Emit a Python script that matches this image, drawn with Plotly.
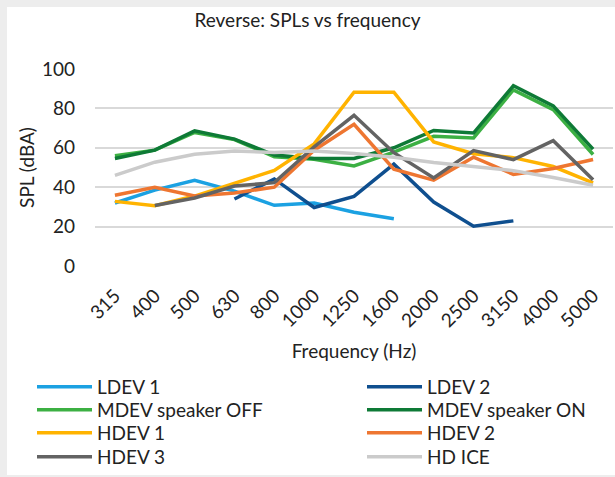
import plotly.graph_objects as go

categories = ["315", "400", "500", "630", "800", "1000", "1250", "1600",
              "2000", "2500", "3150", "4000", "5000"]

ldev1 = [32, 38.5, 43.5, 38, 30.8, 32, 27.3, 24, None, None, None, None, None]
ldev2 = [None, None, None, 34, 44.2, 29.7, 35.3, 51.7, 32.5, 20.2, 22.9, None, None]
mdev_off = [56, 58.8, 67.8, 64.2, 55.5, 54.2, 50.8, 57.8, 65.8, 65, 89.4, 79.4, 56.6]
mdev_on = [54.6, 58.8, 68.6, 64.4, 56.3, 54.6, 54.6, 60, 68.8, 67.5, 91.5, 81.3, 59.3]
hdev1 = [32.8, 30.6, 35.5, 41.9, 48.5, 62, 88.2, 88.2, 63, 57, 55, 50.5, 42.2]
hdev2 = [35.9, 40, 35.5, 37.1, 40, 58.8, 71.9, 49.1, 43.6, 55.2, 46.5, 49.5, 54.1]
hdev3 = [None, 30.7, 34.5, 40.6, 42.3, 60.5, 76.5, 57.5, 44.7, 58.6, 54, 63.6, 43.8]
hd_ice = [46, 52.7, 56.7, 58.4, 57.6, 58.4, 57.1, 55.2, 52.5, 50.5, 48.4, 44.9, 41]

y_ticks = [0, 20, 40, 60, 80, 100]

series_names = ["LDEV 1", "LDEV 2", "MDEV speaker OFF", "MDEV speaker ON",
                "HDEV 1", "HDEV 2", "HDEV 3", "HD ICE"]
series_values = [ldev1, ldev2, mdev_off, mdev_on, hdev1, hdev2, hdev3, hd_ice]
series_colors = ["#1BA1E2", "#0F4F8F", "#3CB043", "#0E7A36",
                 "#FFB300", "#EE7631", "#636363", "#CBCBCB"]

FONT = "Lato"
FS = 19
TXT = "#222222"

# plot area: x 95..613, y 69..265.7
L, R, T, B = 95, 2, 69, 211
pw = 615 - L - R
ph = 477 - T - B

def px_x(p):
    return (p - L) / pw

def px_y(p):
    return (477 - B - p) / ph

fig = go.Figure()
legend_layouts = {}
col_x = [32, 362]
row_center = [387, 410, 433, 457]
for i, (name, vals, color) in enumerate(zip(series_names, series_values, series_colors)):
    leg_id = "legend" if i == 0 else f"legend{i + 1}"
    fig.add_trace(go.Scatter(
        x=categories, y=vals, name=name, mode="lines",
        line=dict(color=color, width=3.5),
        connectgaps=False, legend=leg_id,
    ))
    legend_layouts[leg_id] = dict(
        orientation="v", xanchor="left", yanchor="top",
        x=px_x(col_x[i % 2]), y=px_y(row_center[i // 2] - 19),
        itemwidth=55, tracegroupgap=0, bgcolor="rgba(0,0,0,0)",
        font=dict(family=FONT, size=FS, color=TXT),
    )

fig.add_shape(type="rect", xref="paper", yref="paper",
              x0=px_x(7), x1=px_x(620), y0=px_y(475), y1=px_y(7),
              fillcolor="white", line=dict(width=0), layer="below")

fig.update_layout(
    width=615, height=477,
    margin=dict(l=L, r=R, t=T, b=B, autoexpand=False),
    paper_bgcolor="#EDEDED",
    plot_bgcolor="rgba(0,0,0,0)",
    font=dict(family=FONT, size=FS, color=TXT),
    title=dict(text="Reverse: SPLs vs frequency", x=0.5, xref="container",
               xanchor="center", y=1 - 20 / 477, yref="container", yanchor="middle",
               font=dict(family=FONT, size=FS, color=TXT)),
    showlegend=True,
    xaxis=dict(
        type="category", range=[-0.5, 12.5], tickangle=-45,
        showgrid=False, showline=False, ticks="", automargin=False,
        ticklabelstandoff=14,
        tickfont=dict(family=FONT, size=FS, color=TXT),
        title=dict(text="Frequency (Hz)", standoff=14,
                   font=dict(family=FONT, size=FS, color=TXT)),
    ),
    yaxis=dict(
        range=[0, 100], tickvals=y_ticks, showgrid=True,
        gridcolor="#D9D9D9", gridwidth=1.5, zeroline=False, automargin=False,
        showline=False, ticks="", ticklabelstandoff=19,
        tickfont=dict(family=FONT, size=FS, color=TXT),
        title=dict(text="SPL (dBA)", standoff=2,
                   font=dict(family=FONT, size=FS, color=TXT)),
    ),
)
fig.update_layout(**legend_layouts)

fig.write_html(
    "out.html",
    config={"displayModeBar": False},
    post_script="document.body.style.margin='0';document.body.style.padding='0';"
                "document.body.style.overflow='hidden';",
)
